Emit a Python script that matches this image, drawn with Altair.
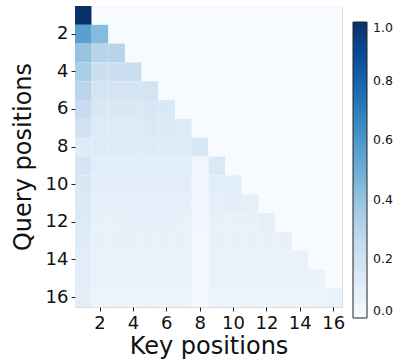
import altair as alt
import pandas as pd

# attention weights per query row (keys 1..row)
r1 = [1.00]
r2 = [0.56, 0.44]
r3 = [0.40, 0.30, 0.30]
r4 = [0.34, 0.22, 0.22, 0.23]
r5 = [0.29, 0.18, 0.17, 0.18, 0.18]
r6 = [0.24, 0.15, 0.15, 0.15, 0.16, 0.15]
r7 = [0.20, 0.13, 0.13, 0.13, 0.14, 0.14, 0.13]
r8 = [0.12, 0.12, 0.12, 0.12, 0.12, 0.12, 0.12, 0.16]
r9 = [0.17, 0.11, 0.11, 0.11, 0.11, 0.11, 0.11, 0.04, 0.14]
r10 = [0.15, 0.10, 0.10, 0.10, 0.10, 0.10, 0.10, 0.03, 0.11, 0.11]
r11 = [0.14, 0.09, 0.09, 0.09, 0.09, 0.09, 0.09, 0.03, 0.09, 0.10, 0.09]
r12 = [0.13, 0.08, 0.08, 0.09, 0.09, 0.09, 0.08, 0.03, 0.08, 0.08, 0.08, 0.09]
r13 = [0.12, 0.075, 0.075, 0.075, 0.08, 0.08, 0.075, 0.025, 0.075, 0.075, 0.075, 0.075, 0.075]
r14 = [0.11, 0.07, 0.07, 0.07, 0.07, 0.07, 0.07, 0.02, 0.07, 0.07, 0.07, 0.07, 0.07, 0.07]
r15 = [0.11, 0.065, 0.065, 0.065, 0.065, 0.065, 0.065, 0.02, 0.065, 0.065, 0.065, 0.065, 0.065, 0.065, 0.065]
r16 = [0.10, 0.06, 0.06, 0.06, 0.06, 0.06, 0.06, 0.02, 0.06, 0.06, 0.06, 0.06, 0.06, 0.06, 0.06, 0.07]
rows = [r1, r2, r3, r4, r5, r6, r7, r8, r9, r10, r11, r12, r13, r14, r15, r16]

positions = list(range(1, 17))
tick_vals = [2, 4, 6, 8, 10, 12, 14, 16]
legend_vals = [0.0, 0.2, 0.4, 0.6, 0.8, 1.0]
blues = ["#f7fbff", "#deebf7", "#c6dbef", "#9ecae1", "#6baed6",
         "#4292c6", "#2171b5", "#08519c", "#08306b"]
blues_domain = [0, 0.125, 0.25, 0.375, 0.5, 0.625, 0.75, 0.875, 1.0]

recs = []
for q in positions:
    row = rows[q - 1]
    for k in positions:
        v = row[k - 1] if k <= len(row) else 0.0
        recs.append({"query": q, "key": k, "w": v})
df = pd.DataFrame(recs)

FONT = "DejaVu Sans"

chart = alt.Chart(df).mark_rect().encode(
    x=alt.X("key:O", title="Key positions",
            scale=alt.Scale(paddingInner=0, paddingOuter=0),
            axis=alt.Axis(values=tick_vals, labelAngle=0, labelFontSize=18,
                          titleFontSize=24, titleFontWeight="normal",
                          tickSize=4, labelPadding=3, titlePadding=2,
                          domain=False, tickColor="#222", labelColor="#111",
                          titleColor="#111", labelFont=FONT, titleFont=FONT)),
    y=alt.Y("query:O", title="Query positions",
            scale=alt.Scale(paddingInner=0, paddingOuter=0),
            axis=alt.Axis(values=tick_vals, labelFontSize=18,
                          titleFontSize=24, titleFontWeight="normal",
                          tickSize=4, labelPadding=3, titlePadding=10,
                          domain=False, tickColor="#222", labelColor="#111",
                          titleColor="#111", labelFont=FONT, titleFont=FONT)),
    color=alt.Color("w:Q", title=None,
                    scale=alt.Scale(domain=blues_domain, range=blues),
                    legend=alt.Legend(orient="none", legendX=278, legendY=16,
                                      direction="vertical",
                                      gradientLength=296, gradientThickness=14,
                                      gradientStrokeColor="#222",
                                      gradientStrokeWidth=1,
                                      values=legend_vals, format=".1f",
                                      labelFontSize=12.5, labelFont=FONT,
                                      labelColor="#111", labelOffset=6,
                                      padding=0)),
).properties(
    width=267, height=301,
    autosize=alt.AutoSizeParams(type="none"),
    padding={"left": 75, "top": 6, "right": 53, "bottom": 56},
).configure_view(
    stroke="#333", strokeWidth=1
).configure(background="white")

chart.save("out.html", embed_options={"renderer": "svg", "actions": False})
